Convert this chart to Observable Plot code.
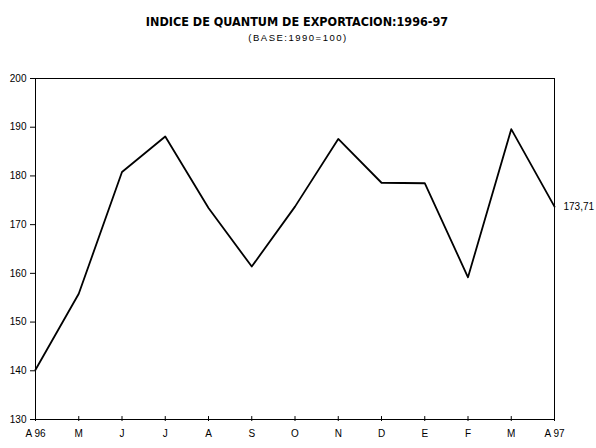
<!DOCTYPE html>
<html><head><meta charset="utf-8">
<script src="https://cdn.jsdelivr.net/npm/d3@7"></script>
<script src="https://cdn.jsdelivr.net/npm/@observablehq/plot@0.6"></script>
<style>
body{margin:0;background:#fff;}
#chart svg{display:block;}
.subtitle text{letter-spacing:1.5px;}
</style>
</head><body><div id="chart"></div>
<script>
const title = "INDICE DE QUANTUM DE EXPORTACION:1996-97";
const subtitle = "(BASE:1990=100)";
const months = ["A 96","M","J","J","A","S","O","N","D","E","F","M","A 97"];
const values = [140.2, 155.8, 180.8, 188.1, 173.4, 161.4, 173.7, 187.6, 178.6, 178.5, 159.2, 189.6, 173.71];
const yTicks = [130,140,150,160,170,180,190,200];
const endLabel = "173,71";

const data = values.map((v,i)=>({i, v}));
const idx = months.map((m,i)=>i);

const chart = Plot.plot({
  width: 596, height: 448,
  marginTop: 78, marginLeft: 35, marginRight: 42, marginBottom: 29,
  style: {fontFamily: "'Liberation Sans', Arial, sans-serif", fontSize: "10px", color: "#000", background: "#fff"},
  x: {type: "linear", domain: [0, 12]},
  y: {domain: [130, 200]},
  marks: [
    Plot.frame({stroke: "#000"}),
    Plot.axisY({ticks: yTicks, tickSize: 5, tickPadding: 4, label: null, tickFormat: d=>String(d)}),
    Plot.axisX({ticks: idx, tickSize: 2, tickPadding: 8, label: null, tickFormat: i=>months[i]}),
    Plot.ruleX(idx, {x: d=>d, y1: 130, y2: 130.6, stroke: "#000"}),
    Plot.line(data, {x: "i", y: "v", stroke: "#000", strokeWidth: 1.8}),
    Plot.text([endLabel], {x: 12, y: values[values.length-1], text: d=>d, textAnchor: "start", dx: 9}),
    Plot.text([title], {frameAnchor: "top", dy: -61, dx: 2, text: d=>d, fontWeight: "bold", fontSize: 12.5, fontFamily: "'Liberation Sans Narrow', 'DejaVu Sans Condensed', Arial, sans-serif"}),
    Plot.text([subtitle], {frameAnchor: "top", dy: -44, dx: 3, text: d=>d, fontSize: 9.5, className: "subtitle"})
  ]
});
document.getElementById("chart").appendChild(chart);
</script>
</body></html>
